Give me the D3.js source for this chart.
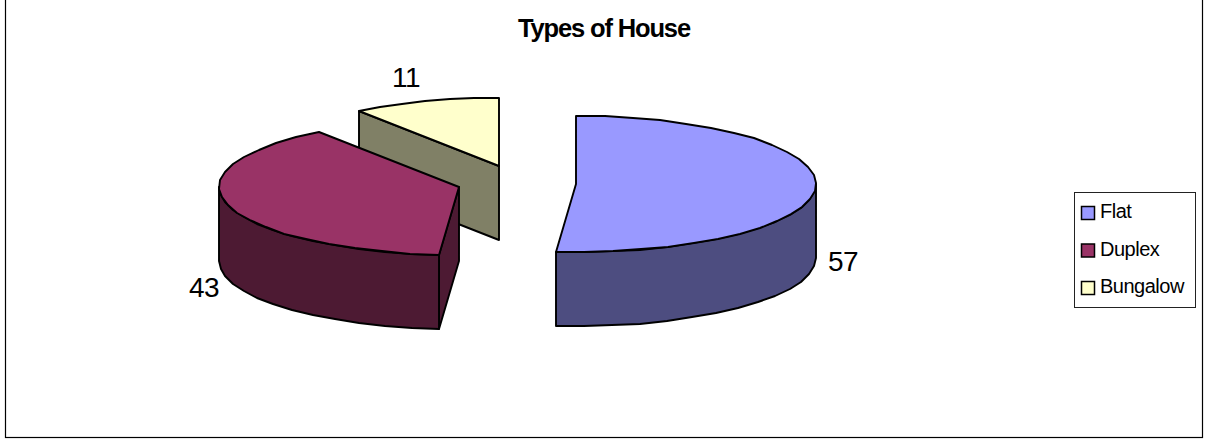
<!DOCTYPE html>
<html><head><meta charset="utf-8">
<script src="https://cdn.jsdelivr.net/npm/d3@7/dist/d3.min.js"></script>
<style>html,body{margin:0;padding:0;background:#fff}svg{display:block}text{font-family:"Liberation Sans",Arial,sans-serif;fill:#000}</style>
</head><body><svg id="c" width="1214" height="442"></svg>
<script>
const categories = ["Flat", "Duplex", "Bungalow"];
const seriesValues = [57, 43, 11];
const topColors = ["#9999FF", "#993366", "#FFFFCC"];
const sideColors = ["#4D4D80", "#4D1A33", "#808066"];
const chartTitle = "Types of House";

const W = 1214, H = 442;
const RX = 240, RY = 68, DEPTH = 74;
const centers = [[576, 184], [459, 187], [499, 166]];
const labelPos = [[843, 271], [204, 297], [406, 87]];

const svg = d3.select("#c");
svg.append("rect").attr("x", 5.5).attr("y", -2).attr("width", 1197).attr("height", 439.5)
  .attr("fill", "#fff").attr("stroke", "#000").attr("stroke-width", 1.2);

svg.append("text").attr("x", 604).attr("y", 37).attr("text-anchor", "middle")
  .attr("font-size", 25.5).attr("font-weight", "bold").attr("letter-spacing", -1.15).text(chartTitle);

const arcs = d3.pie().sort(null).startAngle(0).endAngle(2 * Math.PI)(seriesValues);
const line = d3.line();

function point(i, a, z) {
  const sx = d3.scaleLinear([-1, 1], [centers[i][0] - RX, centers[i][0] + RX]);
  const sy = d3.scaleLinear([-1, 1], [centers[i][1] - RY, centers[i][1] + RY]);
  return [Math.round(sx(Math.sin(a))), Math.round(sy(-Math.cos(a))) + z];
}
function sampled(a0, a1) {
  const n = Math.max(1, Math.ceil((a1 - a0) / (7 * Math.PI / 180)));
  return d3.range(n + 1).map(k => a0 + (a1 - a0) * k / n);
}
function draw(points, fill) {
  svg.append("path").attr("d", line(points) + "Z").attr("fill", fill)
    .attr("stroke", "#000").attr("stroke-width", 1.9).attr("stroke-linejoin", "round");
}

// back-most slice first
[2, 1, 0].forEach(i => {
  const d = arcs[i], c = centers[i];
  const ctr = z => [c[0], c[1] + z];
  const cut = a => draw([ctr(0), point(i, a, 0), point(i, a, DEPTH), ctr(DEPTH)], sideColors[i]);
  if (Math.sin(d.startAngle) < -1e-6) cut(d.startAngle);
  if (Math.sin(d.endAngle) > 1e-6) cut(d.endAngle);
  const w0 = Math.max(d.startAngle, Math.PI / 2), w1 = Math.min(d.endAngle, 3 * Math.PI / 2);
  if (w1 > w0) {
    const as = sampled(w0, w1);
    draw(as.map(a => point(i, a, 0)).concat(as.slice().reverse().map(a => point(i, a, DEPTH))), sideColors[i]);
  }
  draw([ctr(0)].concat(sampled(d.startAngle, d.endAngle).map(a => point(i, a, 0))), topColors[i]);
  svg.append("text").attr("x", labelPos[i][0]).attr("y", labelPos[i][1]).attr("text-anchor", "middle")
    .attr("font-size", 28).attr("letter-spacing", -0.6).text(seriesValues[i]);
});

// legend
const legendY = d3.scalePoint().domain(categories).range([213, 288]);
svg.append("rect").attr("x", 1074.5).attr("y", 192.5).attr("width", 121).attr("height", 115)
  .attr("fill", "#fff").attr("stroke", "#222").attr("stroke-width", 1);
categories.forEach((n, i) => {
  svg.append("rect").attr("x", 1081.5).attr("y", legendY(n) - 6.5).attr("width", 13).attr("height", 13)
    .attr("fill", topColors[i]).attr("stroke", "#000").attr("stroke-width", 1.5);
  svg.append("text").attr("x", 1100).attr("y", legendY(n) + 5).attr("font-size", 20)
    .attr("letter-spacing", -0.5).text(n);
});
</script></body></html>
